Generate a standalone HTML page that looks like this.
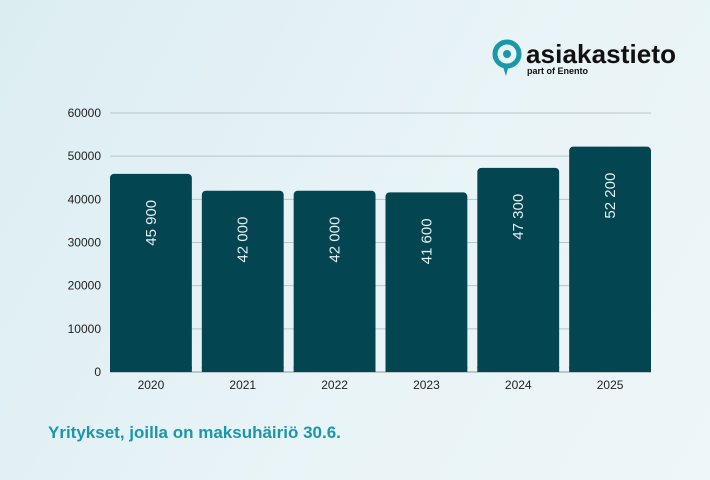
<!DOCTYPE html>
<html><head><meta charset="utf-8"><style>
body{margin:0;width:710px;height:480px;overflow:hidden;background:linear-gradient(120deg,#dcedf2,#e9f4f7 60%,#edf6f8);font-family:"Liberation Sans",sans-serif}
svg{display:block}
</style></head><body>
<svg id="c" width="710" height="480">
<g>
<circle cx="507" cy="54" r="12" fill="none" stroke="#1a97ab" stroke-width="5"/>
<circle cx="507" cy="54" r="4" fill="#1a97ab"/>
<path d="M502 64 L509 64 L506 76 Z" fill="#1a97ab"/>
<text x="526" y="63" font-size="26" font-weight="bold" fill="#111" textLength="150">asiakastieto</text>
<text x="527" y="74" font-size="9" font-weight="bold" fill="#111">part of Enento</text>
</g>
<g id="grid"></g><g id="bars"></g>
<text x="48" y="438" font-size="17" font-weight="bold" fill="#1a97ab">Yritykset, joilla on maksuhäiriö 30.6.</text>
</svg>
<script>
const categories=["2020","2021","2022","2023","2024","2025"];
const values=[45900,42000,42000,41600,47300,52200];
const valueLabels=["45 900","42 000","42 000","41 600","47 300","52 200"];
const ticks=[0,10000,20000,30000,40000,50000,60000];
const X0=110,X1=651,Y0=372,Y1=113,MAX=60000,GAP=10;
const y=v=>Y0-(v/MAX)*(Y0-Y1);
const slot=(X1-X0+GAP)/categories.length,bw=slot-GAP;
const x=i=>X0+i*slot;
const NS="http://www.w3.org/2000/svg";
const g=document.getElementById('grid'),b=document.getElementById('bars');
function mk(t,a,p,txt){const e=document.createElementNS(NS,t);for(const k in a)e.setAttribute(k,a[k]);if(txt!=null)e.textContent=txt;p.appendChild(e);return e;}
ticks.forEach(t=>{
const l=mk('line',{x1:X0,x2:X1,y1:y(t),y2:y(t),stroke:t===0?'#8a9a9f':'#b5c6cb','stroke-width':1},g);


const tx=mk('text',{x:101,y:y(t)+4,'text-anchor':'end','font-size':12,fill:'#222'},g,String(t));


});
values.forEach((v,i)=>{
const r=mk('rect',{x:x(i),y:y(v),width:bw,height:Y0-y(v),rx:4,fill:'#034652'},b);


mk('rect',{x:x(i),y:Y0-5,width:bw,height:5,fill:'#034652'},b);
const cx=x(i)+bw/2;
const lb=mk('text',{x:cx,y:y(v)+26,transform:`rotate(-90 ${cx} ${y(v)+26})`,'text-anchor':'end','font-size':15,fill:'#e6eef0',dy:5},b,valueLabels[i]);


const xl=mk('text',{x:cx,y:389,'text-anchor':'middle','font-size':12,fill:'#222'},b,categories[i]);


});
</script>
</body></html>
